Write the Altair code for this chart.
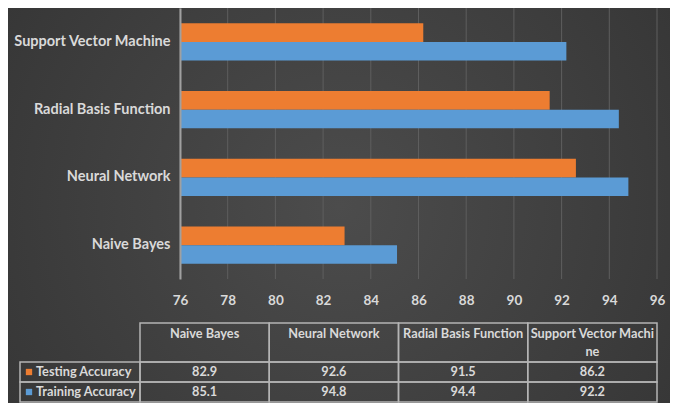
import altair as alt
import pandas as pd

# ---- data ----
models = ["Naive Bayes", "Neural Network", "Radial Basis Function", "Support Vector Machine"]
header_labels = ["Naive Bayes", "Neural Network", "Radial Basis Function", "Support Vector Machi\nne"]
series = ["Testing Accuracy", "Training Accuracy"]
testing = [82.9, 92.6, 91.5, 86.2]
training = [85.1, 94.8, 94.4, 92.2]
x_ticks = [76, 78, 80, 82, 84, 86, 88, 90, 92, 94, 96]

# ---- styles ----
colors = ["#ED7D31", "#5B9BD5"]
FONT = "Lato"
TXT = "#d9d9d9"
LINE = "#b4b4b4"
BG = "#3b3b3b"

rows = []
for m, h, te, tr in zip(models, header_labels, testing, training):
    rows.append({"model": m, "header": h, "series": series[0], "value": te})
    rows.append({"model": m, "header": h, "series": series[1], "value": tr})
df = pd.DataFrame(rows)
hdr = pd.DataFrame({"model": models, "header": header_labels, "row": "header"})
leg = pd.DataFrame({"series": series, "col": "label"})
ticks_df = pd.DataFrame({"t": x_ticks})
one = pd.DataFrame({"k": [0]})

color = alt.Color("series:N", scale=alt.Scale(domain=series, range=colors), legend=None)
xscale = alt.Scale(domain=[x_ticks[0], x_ticks[-1]], nice=False, zero=False)

# background panel with a soft radial gradient (decoration only)
backdrop = alt.Chart(one).mark_rect(
    fill=alt.RadialGradient(
        gradient="radial",
        stops=[alt.GradientStop(offset=0, color="#4c4c4c"),
               alt.GradientStop(offset=1, color="#313131")],
        x1=0.5, y1=0.5, r1=0, x2=0.5, y2=0.5, r2=0.75,
    )
).encode(
    x=alt.value(-172), x2=alt.value(490), y=alt.value(0), y2=alt.value(395)
)

grid = alt.Chart(ticks_df).mark_rule(color="#5e5e5e", strokeWidth=1).encode(
    x=alt.X("t:Q", scale=xscale, axis=None),
)

bars = alt.Chart(df).mark_bar().encode(
    x=alt.X("value:Q", scale=xscale,
            axis=alt.Axis(values=x_ticks, title=None, grid=False, zindex=1, labelFlush=False,
                          domain=False, ticks=False, labelPadding=14, labelFontSize=13.5,
                          labelFontWeight="bold", labelColor=TXT, labelFont=FONT)),
    x2=alt.datum(x_ticks[0]),
    y=alt.Y("model:N", sort=models[::-1],
            scale=alt.Scale(paddingInner=0.45, paddingOuter=0.225),
            axis=alt.Axis(title=None, ticks=False, domain=True, domainColor="#a0a0a0", zindex=1,
                          domainWidth=2, labelPadding=10, labelFontSize=14.5,
                          labelFontWeight="bold", labelColor=TXT, labelFont=FONT)),
    yOffset=alt.YOffset("series:N", sort=series),
    color=color,
)

colx = alt.Scale(domain=models, range=[-40, 477], paddingInner=0, paddingOuter=0)
labx = alt.Scale(domain=["label"], range=[-160, -40], paddingInner=0, paddingOuter=0)
hdry = alt.Scale(domain=["header"], range=[315, 354], paddingInner=0, paddingOuter=0)
rowy = alt.Scale(domain=series, range=[354, 394], paddingInner=0, paddingOuter=0)

cell = dict(fillOpacity=0, stroke=LINE, strokeWidth=1.5)
txt = dict(font=FONT, fontSize=12.75, fontWeight="bold", color=TXT)

hdr_cells = alt.Chart(hdr).mark_rect(**cell).encode(
    x=alt.X("model:N", scale=colx, axis=None),
    y=alt.Y("row:N", scale=hdry, axis=None),
)
body_cells = alt.Chart(df).mark_rect(**cell).encode(
    x=alt.X("model:N", scale=colx, axis=None),
    y=alt.Y("series:N", scale=rowy, axis=None),
)
lab_cells = alt.Chart(leg).mark_rect(**cell).encode(
    x=alt.X("col:N", scale=labx, axis=None),
    y=alt.Y("series:N", scale=rowy, axis=None),
)
hdr_text = alt.Chart(hdr).mark_text(baseline="top", dy=-15, lineBreak="\n", lineHeight=18, **txt).encode(
    x=alt.X("model:N", scale=colx, axis=None),
    y=alt.Y("row:N", scale=hdry, axis=None),
    text="header:N",
)
val_text = alt.Chart(df).mark_text(baseline="middle", **txt).encode(
    x=alt.X("model:N", scale=colx, axis=None),
    y=alt.Y("series:N", scale=rowy, axis=None),
    text=alt.Text("value:Q", format=".1f"),
)
lab_text = alt.Chart(leg).mark_text(baseline="middle", align="left", dx=-44, **txt).encode(
    x=alt.X("col:N", scale=labx, axis=None),
    y=alt.Y("series:N", scale=rowy, axis=None),
    text="series:N",
)
lab_sq = alt.Chart(leg).mark_square(size=40, opacity=1, xOffset=-51).encode(
    x=alt.X("col:N", scale=labx, axis=None),
    y=alt.Y("series:N", scale=rowy, axis=None),
    color=color,
)

chart = alt.layer(
    backdrop, grid, bars, hdr_cells, body_cells, lab_cells, hdr_text, val_text, lab_sq, lab_text
).resolve_scale(
    x="independent", y="independent"
).properties(
    width=477, height=271,
    autosize=alt.AutoSizeParams(type="none"),
    padding={"left": 172, "top": 0, "right": 13, "bottom": 124},
    background=BG,
).configure_view(stroke=None)

chart.save("out.html", embed_options={"renderer": "svg", "actions": False})
